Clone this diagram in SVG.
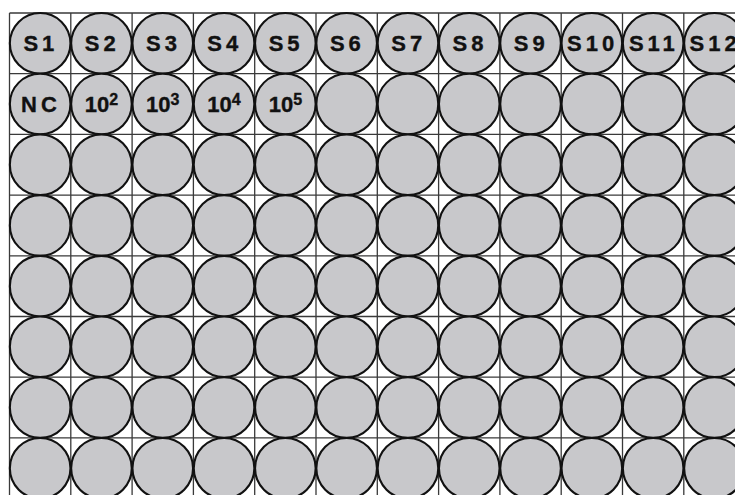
<svg xmlns="http://www.w3.org/2000/svg" width="735" height="495" viewBox="0 0 735 495">
<style>
.w{fill:#c8c8cb;stroke:#111;stroke-width:2.1}
.g{stroke:#3a3a3a;stroke-width:1.3}
.t{font-family:"Liberation Sans",Arial,sans-serif;font-weight:bold;font-size:22px;fill:#111;stroke:#111;stroke-width:0.35;text-anchor:middle}
.s{letter-spacing:4px}
.n{letter-spacing:0px}
.sup{font-size:16px}
</style>
<rect width="735" height="495" fill="#fff"/>
<g id="grid">
<path class="g" d="M9.5 13V495M70.8 13V495M132.1 13V495M193.4 13V495M254.7 13V495M316 13V495M377.3 13V495M438.6 13V495M499.9 13V495M561.2 13V495M622.5 13V495M683.8 13V495"/>
<path class="g" d="M9.5 13H735M9.5 73.7H735M9.5 134.4H735M9.5 195.1H735M9.5 255.8H735M9.5 316.5H735M9.5 377.2H735M9.5 437.9H735"/>
</g>
<g id="row1">
<g id="A1"><circle class="w" cx="40.15" cy="43.35" r="30.3"/><text class="t s" x="40.9" y="51.3">S1</text></g>
<g id="A2"><circle class="w" cx="101.45" cy="43.35" r="30.3"/><text class="t s" x="102.2" y="51.3">S2</text></g>
<g id="A3"><circle class="w" cx="162.75" cy="43.35" r="30.3"/><text class="t s" x="163.5" y="51.3">S3</text></g>
<g id="A4"><circle class="w" cx="224.05" cy="43.35" r="30.3"/><text class="t s" x="224.8" y="51.3">S4</text></g>
<g id="A5"><circle class="w" cx="285.35" cy="43.35" r="30.3"/><text class="t s" x="286.1" y="51.3">S5</text></g>
<g id="A6"><circle class="w" cx="346.65" cy="43.35" r="30.3"/><text class="t s" x="347.4" y="51.3">S6</text></g>
<g id="A7"><circle class="w" cx="407.95" cy="43.35" r="30.3"/><text class="t s" x="408.7" y="51.3">S7</text></g>
<g id="A8"><circle class="w" cx="469.25" cy="43.35" r="30.3"/><text class="t s" x="470" y="51.3">S8</text></g>
<g id="A9"><circle class="w" cx="530.55" cy="43.35" r="30.3"/><text class="t s" x="531.3" y="51.3">S9</text></g>
<g id="A10"><circle class="w" cx="591.85" cy="43.35" r="30.3"/><text class="t s" x="592.6" y="51.3">S10</text></g>
<g id="A11"><circle class="w" cx="653.15" cy="43.35" r="30.3"/><text class="t s" x="653.9" y="51.3">S11</text></g>
<g id="A12"><circle class="w" cx="714.45" cy="43.35" r="30.3"/><text class="t s" x="715.2" y="51.3">S12</text></g>
</g>
<g id="row2">
<g id="B1"><circle class="w" cx="40.15" cy="104.05" r="30.3"/><text class="t s" x="40.9" y="112">NC</text></g>
<g id="B2"><circle class="w" cx="101.45" cy="104.05" r="30.3"/><text class="t n" x="101.45" y="112">10<tspan class="sup" dy="-7.5">2</tspan></text></g>
<g id="B3"><circle class="w" cx="162.75" cy="104.05" r="30.3"/><text class="t n" x="162.75" y="112">10<tspan class="sup" dy="-7.5">3</tspan></text></g>
<g id="B4"><circle class="w" cx="224.05" cy="104.05" r="30.3"/><text class="t n" x="224.05" y="112">10<tspan class="sup" dy="-7.5">4</tspan></text></g>
<g id="B5"><circle class="w" cx="285.35" cy="104.05" r="30.3"/><text class="t n" x="285.35" y="112">10<tspan class="sup" dy="-7.5">5</tspan></text></g>
<g id="B6"><circle class="w" cx="346.65" cy="104.05" r="30.3"/></g>
<g id="B7"><circle class="w" cx="407.95" cy="104.05" r="30.3"/></g>
<g id="B8"><circle class="w" cx="469.25" cy="104.05" r="30.3"/></g>
<g id="B9"><circle class="w" cx="530.55" cy="104.05" r="30.3"/></g>
<g id="B10"><circle class="w" cx="591.85" cy="104.05" r="30.3"/></g>
<g id="B11"><circle class="w" cx="653.15" cy="104.05" r="30.3"/></g>
<g id="B12"><circle class="w" cx="714.45" cy="104.05" r="30.3"/></g>
</g>
<g id="row3">
<g id="C1"><circle class="w" cx="40.15" cy="164.75" r="30.3"/></g>
<g id="C2"><circle class="w" cx="101.45" cy="164.75" r="30.3"/></g>
<g id="C3"><circle class="w" cx="162.75" cy="164.75" r="30.3"/></g>
<g id="C4"><circle class="w" cx="224.05" cy="164.75" r="30.3"/></g>
<g id="C5"><circle class="w" cx="285.35" cy="164.75" r="30.3"/></g>
<g id="C6"><circle class="w" cx="346.65" cy="164.75" r="30.3"/></g>
<g id="C7"><circle class="w" cx="407.95" cy="164.75" r="30.3"/></g>
<g id="C8"><circle class="w" cx="469.25" cy="164.75" r="30.3"/></g>
<g id="C9"><circle class="w" cx="530.55" cy="164.75" r="30.3"/></g>
<g id="C10"><circle class="w" cx="591.85" cy="164.75" r="30.3"/></g>
<g id="C11"><circle class="w" cx="653.15" cy="164.75" r="30.3"/></g>
<g id="C12"><circle class="w" cx="714.45" cy="164.75" r="30.3"/></g>
</g>
<g id="row4">
<g id="D1"><circle class="w" cx="40.15" cy="225.45" r="30.3"/></g>
<g id="D2"><circle class="w" cx="101.45" cy="225.45" r="30.3"/></g>
<g id="D3"><circle class="w" cx="162.75" cy="225.45" r="30.3"/></g>
<g id="D4"><circle class="w" cx="224.05" cy="225.45" r="30.3"/></g>
<g id="D5"><circle class="w" cx="285.35" cy="225.45" r="30.3"/></g>
<g id="D6"><circle class="w" cx="346.65" cy="225.45" r="30.3"/></g>
<g id="D7"><circle class="w" cx="407.95" cy="225.45" r="30.3"/></g>
<g id="D8"><circle class="w" cx="469.25" cy="225.45" r="30.3"/></g>
<g id="D9"><circle class="w" cx="530.55" cy="225.45" r="30.3"/></g>
<g id="D10"><circle class="w" cx="591.85" cy="225.45" r="30.3"/></g>
<g id="D11"><circle class="w" cx="653.15" cy="225.45" r="30.3"/></g>
<g id="D12"><circle class="w" cx="714.45" cy="225.45" r="30.3"/></g>
</g>
<g id="row5">
<g id="E1"><circle class="w" cx="40.15" cy="286.15" r="30.3"/></g>
<g id="E2"><circle class="w" cx="101.45" cy="286.15" r="30.3"/></g>
<g id="E3"><circle class="w" cx="162.75" cy="286.15" r="30.3"/></g>
<g id="E4"><circle class="w" cx="224.05" cy="286.15" r="30.3"/></g>
<g id="E5"><circle class="w" cx="285.35" cy="286.15" r="30.3"/></g>
<g id="E6"><circle class="w" cx="346.65" cy="286.15" r="30.3"/></g>
<g id="E7"><circle class="w" cx="407.95" cy="286.15" r="30.3"/></g>
<g id="E8"><circle class="w" cx="469.25" cy="286.15" r="30.3"/></g>
<g id="E9"><circle class="w" cx="530.55" cy="286.15" r="30.3"/></g>
<g id="E10"><circle class="w" cx="591.85" cy="286.15" r="30.3"/></g>
<g id="E11"><circle class="w" cx="653.15" cy="286.15" r="30.3"/></g>
<g id="E12"><circle class="w" cx="714.45" cy="286.15" r="30.3"/></g>
</g>
<g id="row6">
<g id="F1"><circle class="w" cx="40.15" cy="346.85" r="30.3"/></g>
<g id="F2"><circle class="w" cx="101.45" cy="346.85" r="30.3"/></g>
<g id="F3"><circle class="w" cx="162.75" cy="346.85" r="30.3"/></g>
<g id="F4"><circle class="w" cx="224.05" cy="346.85" r="30.3"/></g>
<g id="F5"><circle class="w" cx="285.35" cy="346.85" r="30.3"/></g>
<g id="F6"><circle class="w" cx="346.65" cy="346.85" r="30.3"/></g>
<g id="F7"><circle class="w" cx="407.95" cy="346.85" r="30.3"/></g>
<g id="F8"><circle class="w" cx="469.25" cy="346.85" r="30.3"/></g>
<g id="F9"><circle class="w" cx="530.55" cy="346.85" r="30.3"/></g>
<g id="F10"><circle class="w" cx="591.85" cy="346.85" r="30.3"/></g>
<g id="F11"><circle class="w" cx="653.15" cy="346.85" r="30.3"/></g>
<g id="F12"><circle class="w" cx="714.45" cy="346.85" r="30.3"/></g>
</g>
<g id="row7">
<g id="G1"><circle class="w" cx="40.15" cy="407.55" r="30.3"/></g>
<g id="G2"><circle class="w" cx="101.45" cy="407.55" r="30.3"/></g>
<g id="G3"><circle class="w" cx="162.75" cy="407.55" r="30.3"/></g>
<g id="G4"><circle class="w" cx="224.05" cy="407.55" r="30.3"/></g>
<g id="G5"><circle class="w" cx="285.35" cy="407.55" r="30.3"/></g>
<g id="G6"><circle class="w" cx="346.65" cy="407.55" r="30.3"/></g>
<g id="G7"><circle class="w" cx="407.95" cy="407.55" r="30.3"/></g>
<g id="G8"><circle class="w" cx="469.25" cy="407.55" r="30.3"/></g>
<g id="G9"><circle class="w" cx="530.55" cy="407.55" r="30.3"/></g>
<g id="G10"><circle class="w" cx="591.85" cy="407.55" r="30.3"/></g>
<g id="G11"><circle class="w" cx="653.15" cy="407.55" r="30.3"/></g>
<g id="G12"><circle class="w" cx="714.45" cy="407.55" r="30.3"/></g>
</g>
<g id="row8">
<g id="H1"><circle class="w" cx="40.15" cy="468.25" r="30.3"/></g>
<g id="H2"><circle class="w" cx="101.45" cy="468.25" r="30.3"/></g>
<g id="H3"><circle class="w" cx="162.75" cy="468.25" r="30.3"/></g>
<g id="H4"><circle class="w" cx="224.05" cy="468.25" r="30.3"/></g>
<g id="H5"><circle class="w" cx="285.35" cy="468.25" r="30.3"/></g>
<g id="H6"><circle class="w" cx="346.65" cy="468.25" r="30.3"/></g>
<g id="H7"><circle class="w" cx="407.95" cy="468.25" r="30.3"/></g>
<g id="H8"><circle class="w" cx="469.25" cy="468.25" r="30.3"/></g>
<g id="H9"><circle class="w" cx="530.55" cy="468.25" r="30.3"/></g>
<g id="H10"><circle class="w" cx="591.85" cy="468.25" r="30.3"/></g>
<g id="H11"><circle class="w" cx="653.15" cy="468.25" r="30.3"/></g>
<g id="H12"><circle class="w" cx="714.45" cy="468.25" r="30.3"/></g>
</g>
</svg>
